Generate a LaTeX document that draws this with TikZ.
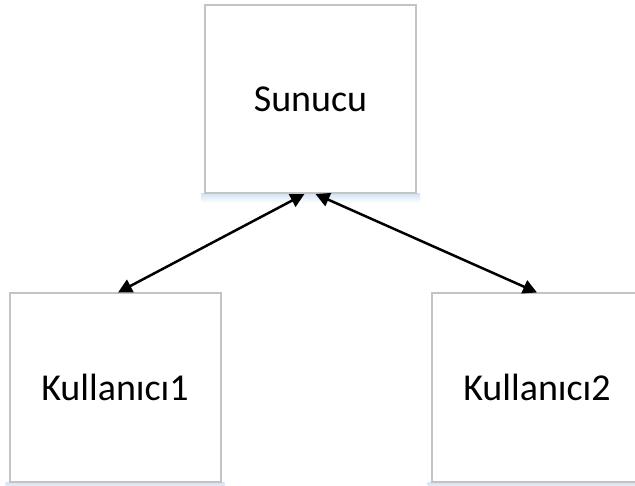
\documentclass[tikz,border=0pt]{standalone}
\usepackage{fontspec}
\setmainfont{Carlito}
\usetikzlibrary{arrows.meta,calc,backgrounds}
\definecolor{boxline}{RGB}{196,196,196}
\definecolor{glow}{RGB}{214,228,244}
\tikzset{
  box/.style={draw=boxline, line width=2pt, fill=white, rectangle,
    minimum width=211pt, minimum height=188pt, inner sep=0pt,
    font=\fontsize{38}{42}\selectfont},
  link/.style={line width=2.5pt, {Triangle[length=14pt,width=14pt]}-{Triangle[length=14pt,width=14pt]}}
}
\newcommand{\boxglow}[1]{%
  \shade[top color=glow, bottom color=white]
    ($(#1.south west)+(-3,0)$) rectangle ($(#1.south east)+(3,9)$);}
\begin{document}
\begin{tikzpicture}[x=1pt,y=-1pt]
  \useasboundingbox (0,0) rectangle (635,486);
  % server and the two clients
  \node[box] (srv) at (310.5,99) {Sunucu};
  \node[box] (usr1) at (115,387.5) {Kullanıcı1};
  \node[box] (usr2) at (537,387.5) {Kullanıcı2};
  % soft glow under each box
  \begin{scope}[on background layer]
    \boxglow{srv}
    \boxglow{usr1}
    \boxglow{usr2}
  \end{scope}
  % two-way links
  \draw[link] ([xshift=-6pt]srv.south) -- ([xshift=3pt]usr1.north);
  \draw[link] ([xshift=5pt]srv.south) -- (usr2.north);
\end{tikzpicture}
\end{document}
